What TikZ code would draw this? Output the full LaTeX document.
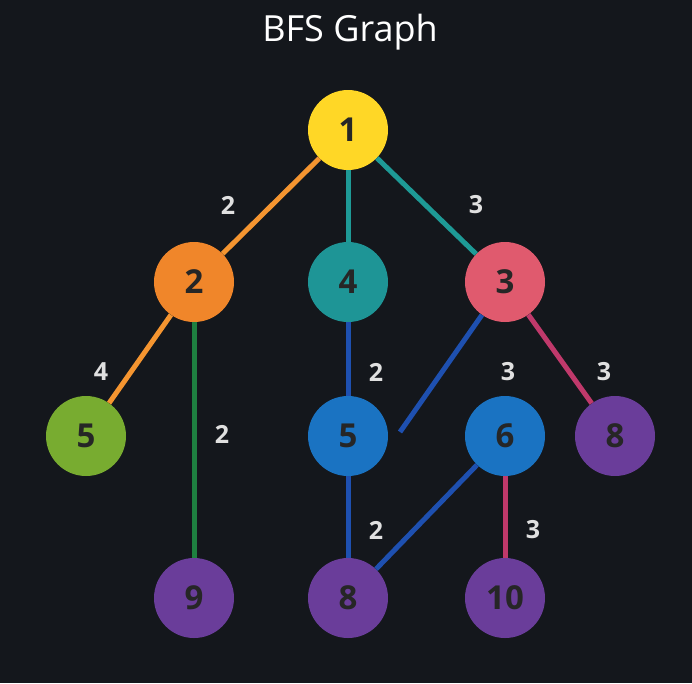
\documentclass[tikz,border=0pt]{standalone}
\usepackage{fontspec}
\setmainfont{Open Sans}
\begin{document}
\begin{tikzpicture}[x=1pt,y=-1pt,
 nd/.style={circle,minimum size=80pt,inner sep=0pt,font=\fontsize{33}{33}\selectfont\bfseries,text=black!85},
 ed/.style={line width=5pt},
 lb/.style={text=white!88!black,font=\fontsize{25}{25}\selectfont\bfseries}]
\definecolor{bg}{HTML}{14171C}
\definecolor{cy}{HTML}{FFD726}\definecolor{co}{HTML}{F0862A}\definecolor{ct}{HTML}{1E9596}
\definecolor{cr}{HTML}{E05A6E}\definecolor{cg}{HTML}{78AC30}\definecolor{cb}{HTML}{1A73C2}
\definecolor{cp}{HTML}{6A3D9A}\definecolor{eb}{HTML}{1E50B0}\definecolor{em}{HTML}{C0396B}
\definecolor{eg}{HTML}{1E8040}\definecolor{eo}{HTML}{F59530}\definecolor{et}{HTML}{1E9A96}
\fill[bg] (0,0) rectangle (692,683);
\useasboundingbox (0,0) rectangle (692,683);
\node[text=white,font=\fontsize{36}{36}\selectfont] (title) at (350,32) {BFS Graph};
\node[nd,fill=cy] (n1) at (348,130) {1};
\node[nd,fill=co] (n2) at (194,282) {2};
\node[nd,fill=ct] (n4) at (348,282) {4};
\node[nd,fill=cr] (n3) at (505,282) {3};
\node[nd,fill=cg] (n5a) at (86,436) {5};
\node[nd,fill=cb] (n5b) at (348,436) {5};
\node[nd,fill=cb] (n6) at (505,436) {6};
\node[nd,fill=cp] (n8a) at (615,436) {8};
\node[nd,fill=cp] (n9) at (194,598) {9};
\node[nd,fill=cp] (n8b) at (348,598) {8};
\node[nd,fill=cp] (n10) at (505,598) {10};
\coordinate (free) at (400,432);
\draw[ed,eo] (n1) -- (n2);
\draw[ed,et] (n1) -- (n4);
\draw[ed,et] (n1) -- (n3);
\draw[ed,eo] (n2) -- (n5a);
\draw[ed,eg] (n2) -- (n9);
\draw[ed,eb] (n4) -- (n5b);
\draw[ed,eb] (n3) -- (free);
\draw[ed,em] (n3) -- (n8a);
\draw[ed,eb] (n5b) -- (n8b);
\draw[ed,eb] (n6) -- (n8b);
\draw[ed,em] (n6) -- (n10);
\node[lb] (l1) at (228,205) {2};
\node[lb] (l2) at (476,205) {3};
\node[lb] (l3) at (101,372) {4};
\node[lb] (l4) at (222,434) {2};
\node[lb] (l5) at (376,372) {2};
\node[lb] (l6) at (508,372) {3};
\node[lb] (l7) at (604,372) {3};
\node[lb] (l8) at (376,530) {2};
\node[lb] (l9) at (533,530) {3};
\end{tikzpicture}
\end{document}
